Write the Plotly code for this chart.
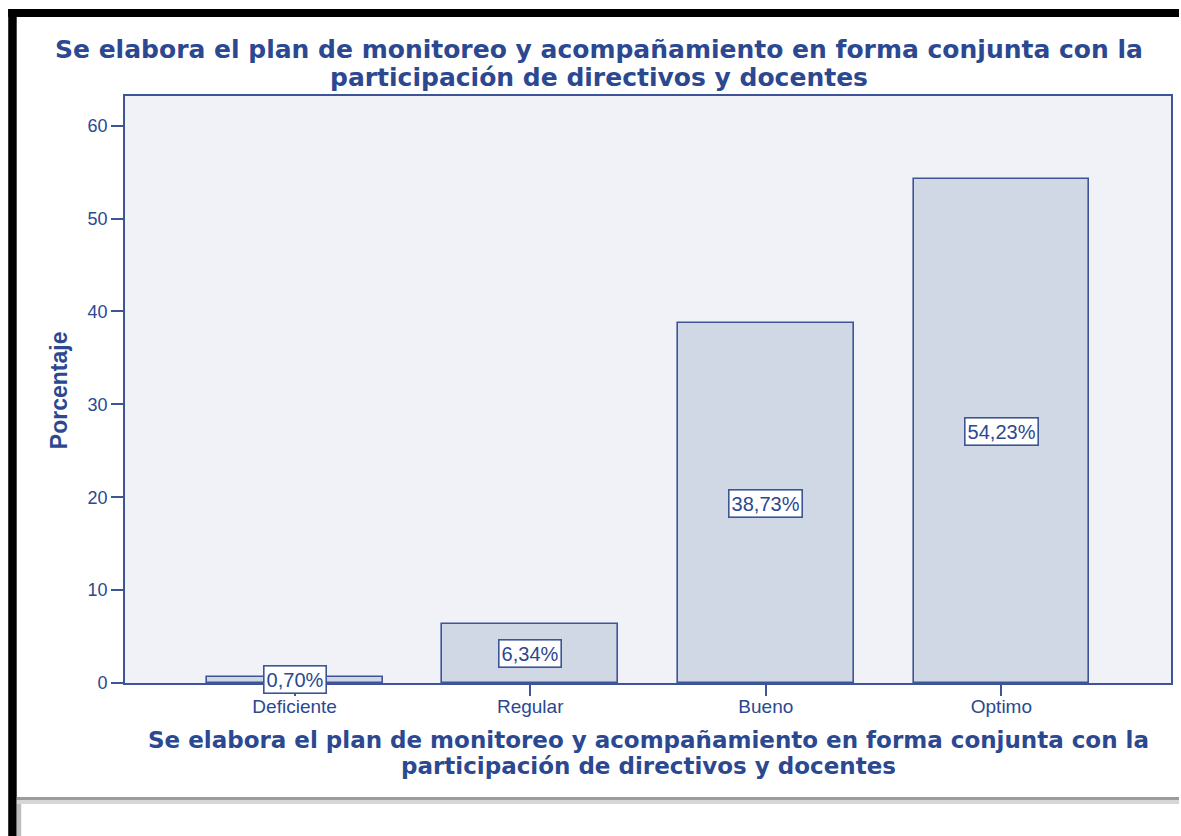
import plotly.graph_objects as go

categories = ["Deficiente", "Regular", "Bueno", "Optimo"]
values = [0.70, 6.34, 38.73, 54.23]
labels = ["0,70%", "6,34%", "38,73%", "54,23%"]
y_ticks = [0, 10, 20, 30, 40, 50, 60]

title_lines = ["Se elabora el plan de monitoreo y acompañamiento en forma conjunta con la",
               "participación de directivos y docentes"]

TXT = "#2B4890"
LINE = "#3D5597"
BAR = "#D1D8E5"
PBG = "#F1F2F7"

W, H = 1181, 836
L, R, T, B = 125, 8, 96, 153
pw, ph = W - L - R, H - T - B

def px(x):
    return (x - L) / pw

def py(y):
    return (H - B - y) / ph

fig = go.Figure()
fig.add_trace(go.Bar(
    x=categories, y=values, width=0.746,
    marker=dict(color=BAR, line=dict(color=LINE, width=1.6)),
    hoverinfo="skip",
))

for c, v, t in zip(categories, values, labels):
    fig.add_annotation(x=c, y=v / 2, text=t, showarrow=False,
                       font=dict(family="Liberation Sans, Arial", size=20, color=TXT),
                       bgcolor="white", bordercolor=LINE, borderwidth=1.6, borderpad=2)

# chart title (two lines)
for line, yc in zip(title_lines, [50, 77]):
    fig.add_annotation(xref="paper", yref="paper", x=(600 - L) / pw, y=py(yc),
                       text="<b>" + line + "</b>", showarrow=False,
                       xanchor="center", yanchor="middle",
                       font=dict(family="DejaVu Sans", size=25, color=TXT))
# x-axis title (two lines)
for line, yc in zip(title_lines, [740, 766]):
    fig.add_annotation(xref="paper", yref="paper", x=0.5, y=py(yc),
                       text="<b>" + line + "</b>", showarrow=False,
                       xanchor="center", yanchor="middle",
                       font=dict(family="DejaVu Sans", size=23, color=TXT))
fig.add_annotation(xref="paper", yref="paper", x=px(59), y=py(390),
                   text="<b>Porcentaje</b>", showarrow=False, textangle=-90,
                   xanchor="center", yanchor="middle",
                   font=dict(family="Liberation Sans, Arial", size=23, color=TXT))

# frame decorations: black border on top/left and bottom shadow
shapes = [
    dict(type="rect", xref="paper", yref="paper", x0=px(8), x1=px(1181), y0=py(17), y1=py(9),
         fillcolor="black", line=dict(width=0), layer="above"),
    dict(type="rect", xref="paper", yref="paper", x0=px(8), x1=px(16.5), y0=py(836), y1=py(9),
         fillcolor="black", line=dict(width=0), layer="above"),
    dict(type="rect", xref="paper", yref="paper", x0=px(16.5), x1=px(1181), y0=py(800), y1=py(797),
         fillcolor="#9C9C9C", line=dict(width=0), layer="above"),
    dict(type="rect", xref="paper", yref="paper", x0=px(16.5), x1=px(1181), y0=py(804), y1=py(800),
         fillcolor="#D6D6D6", line=dict(width=0), layer="above"),
    dict(type="rect", xref="paper", yref="paper", x0=px(16.5), x1=px(21), y0=py(836), y1=py(804),
         fillcolor="#BDBDBD", line=dict(width=0), layer="above"),
]

fig.update_layout(
    width=W, height=H,
    margin=dict(l=L, r=R, t=T, b=B, pad=0),
    paper_bgcolor="white", plot_bgcolor=PBG,
    showlegend=False, bargap=0,
    shapes=shapes,
    font=dict(family="Liberation Sans, Arial", color=TXT),
)
fig.update_xaxes(range=[-0.72, 3.72], showgrid=False, zeroline=False,
                 showline=True, linecolor=LINE, linewidth=1.6, mirror=True,
                 ticks="outside", ticklen=11, tickwidth=1.6, tickcolor=LINE,
                 ticklabelstandoff=-6,
                 tickfont=dict(size=19, color=TXT, family="Liberation Sans, Arial"))
fig.update_yaxes(range=[0, 63.2], showgrid=False, zeroline=False,
                 tickvals=y_ticks, ticktext=[str(v) for v in y_ticks],
                 showline=True, linecolor=LINE, linewidth=1.6, mirror=True,
                 ticks="outside", ticklen=12, tickwidth=1.6, tickcolor=LINE,
                 tickfont=dict(size=18, color=TXT, family="Liberation Sans, Arial"))

fig.write_html("out.html", config={"displayModeBar": False},
               post_script="document.body.style.margin='0';document.body.style.padding='0';")
